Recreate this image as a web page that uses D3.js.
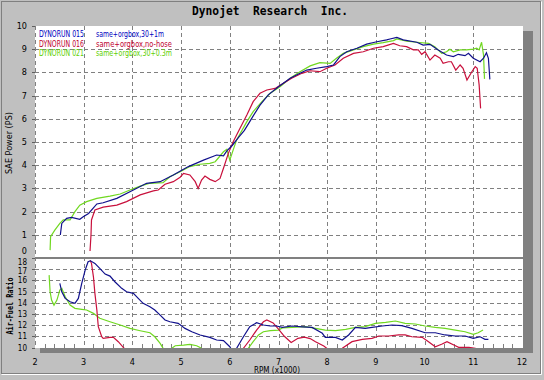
<!DOCTYPE html>
<html>
<head>
<meta charset="utf-8">
<script src="https://cdn.jsdelivr.net/npm/d3@7"></script>
<style>
html,body{margin:0;padding:0;background:#c0c0c0;}
svg{display:block;}
</style>
</head>
<body>
<svg id="chart" width="544" height="380"></svg>
<script>
// ---------- DATA ----------
const chartTitle = "Dynojet  Research  Inc.";
const xTicks = [2,3,4,5,6,7,8,9,10,11,12];
const powerTicks = [0,1,2,3,4,5,6,7,8,9,10];
const afrTicks = [10,11,12,13,14,15,16,17,18];
const runNames = ["DYNORUN 015","DYNORUN 016","DYNORUN 021"];
const runNotes = ["same+orgbox,30+1m","same+orgbox,no-hose","same+orgbox,30+0.3m"];
const runColors = ["#10108c","#c8103c","#70d820"];
const legendColors = ["#0000c0","#c00030","#60d000"];

// SAE power (PS) vs RPM (x1000)
const power015 = [[2.52,0.99],[2.55,1.49],[2.65,1.71],[2.75,1.75],[2.92,1.67],[2.99,1.78],[3.10,1.92],[3.27,2.33],[3.40,2.38],[3.68,2.57],[4.02,2.93],[4.29,3.22],[4.57,3.29],[4.84,3.58],[5.15,3.94],[5.46,4.22],[5.73,4.44],[5.87,4.40],[5.94,4.62],[6.05,4.85],[6.18,5.2],[6.30,5.5],[6.45,6.02],[6.62,6.59],[6.79,7.03],[7.0,7.38],[7.24,7.75],[7.44,7.96],[7.58,8.10],[7.78,8.18],[7.99,8.25],[8.13,8.32],[8.26,8.68],[8.40,8.89],[8.61,9.04],[8.81,9.22],[9.02,9.32],[9.22,9.40],[9.29,9.44],[9.43,9.51],[9.56,9.40],[9.84,9.30],[9.97,9.18],[10.11,9.21],[10.28,8.97],[10.45,8.75],[10.59,8.68],[10.69,8.78],[10.83,8.72],[10.9,8.82],[11.0,8.61],[11.14,8.46],[11.21,8.61],[11.27,8.85],[11.31,8.61],[11.34,7.7]];
const power016 = [[3.13,0.3],[3.15,1.0],[3.16,1.64],[3.23,2.07],[3.40,2.19],[3.68,2.28],[3.88,2.43],[4.16,2.72],[4.43,2.89],[4.53,2.93],[4.67,3.18],[4.84,3.29],[4.98,3.48],[5.05,3.65],[5.18,3.58],[5.29,3.29],[5.35,3.0],[5.42,3.36],[5.49,3.53],[5.59,3.39],[5.70,3.29],[5.80,3.43],[5.87,3.87],[5.97,4.51],[6.07,5.01],[6.21,5.59],[6.35,6.16],[6.48,6.74],[6.62,7.10],[6.76,7.24],[6.93,7.31],[7.10,7.53],[7.27,7.75],[7.48,7.96],[7.65,8.07],[7.85,8.03],[7.99,8.18],[8.16,8.32],[8.33,8.61],[8.54,8.82],[8.74,8.89],[8.95,9.04],[9.15,9.11],[9.36,9.25],[9.49,9.15],[9.63,9.11],[9.77,8.97],[9.87,8.97],[9.94,8.78],[10.01,8.89],[10.11,8.53],[10.21,8.75],[10.32,8.61],[10.38,8.39],[10.49,8.46],[10.55,8.46],[10.64,8.10],[10.73,8.32],[10.79,8.18],[10.87,7.67],[10.97,8.03],[11.04,8.25],[11.08,8.18],[11.12,7.46],[11.15,6.45]];
const power021 = [[2.31,0.34],[2.32,0.92],[2.41,1.21],[2.51,1.49],[2.58,1.64],[2.72,1.64],[2.82,2.0],[2.92,2.28],[3.06,2.43],[3.27,2.57],[3.54,2.67],[3.75,2.76],[3.95,2.93],[4.16,3.10],[4.36,3.22],[4.63,3.25],[4.77,3.50],[4.98,3.72],[5.18,3.94],[5.39,4.04],[5.59,4.08],[5.70,4.15],[5.76,4.30],[5.87,4.58],[5.94,4.69],[6.00,4.22],[6.07,4.66],[6.14,5.09],[6.35,5.88],[6.48,6.31],[6.66,6.74],[6.83,7.10],[7.03,7.38],[7.24,7.75],[7.44,8.03],[7.65,8.28],[7.85,8.42],[8.06,8.39],[8.19,8.61],[8.33,8.82],[8.54,8.97],[8.74,9.11],[8.95,9.22],[9.15,9.28],[9.36,9.37],[9.43,9.44],[9.63,9.35],[9.84,9.30],[10.08,9.25],[10.21,9.11],[10.35,8.82],[10.45,8.89],[10.52,9.0],[10.59,8.89],[10.73,8.97],[10.86,8.97],[11.0,9.0],[11.07,9.04],[11.12,8.97],[11.17,9.3],[11.21,8.75],[11.23,7.72]];

// Air-fuel ratio vs RPM (x1000); values under 10 fall below the panel
const afr015 = [[2.51,15.73],[2.55,14.98],[2.62,14.39],[2.72,14.09],[2.82,13.95],[2.89,14.39],[2.96,15.73],[3.03,16.92],[3.09,17.66],[3.14,17.75],[3.23,17.52],[3.33,17.07],[3.44,16.56],[3.54,16.38],[3.64,15.88],[3.78,15.29],[3.88,14.98],[4.02,14.84],[4.12,14.39],[4.22,13.95],[4.36,13.64],[4.46,13.35],[4.57,12.90],[4.67,12.46],[4.77,12.30],[4.94,12.16],[5.08,11.71],[5.22,11.41],[5.39,11.12],[5.59,10.91],[5.73,10.67],[5.87,10.61],[6.00,10.07],[6.05,9.7],[6.12,9.7],[6.14,9.93],[6.28,10.96],[6.41,11.86],[6.55,12.21],[6.69,12.01],[6.83,11.92],[6.96,11.92],[7.08,11.80],[7.28,11.92],[7.49,11.85],[7.69,11.80],[7.90,11.27],[7.96,10.91],[8.17,10.91],[8.31,10.67],[8.44,11.12],[8.58,11.80],[8.78,11.71],[8.92,11.80],[9.13,11.92],[9.33,12.01],[9.53,11.95],[9.74,11.71],[10.01,11.32],[10.22,11.32],[10.42,11.12],[10.63,11.03],[10.83,11.03],[11.0,10.82],[11.14,10.96],[11.24,10.73],[11.31,10.73]];
const afr016 = [[3.13,17.8],[3.16,17.52],[3.20,16.32],[3.23,14.84],[3.27,13.35],[3.30,11.86],[3.37,10.96],[3.40,10.82],[3.54,10.91],[3.61,10.91],[3.71,10.52],[3.83,9.93],[3.95,9.6],[6.15,9.6],[6.28,9.93],[6.41,10.67],[6.55,11.56],[6.69,12.30],[6.76,12.46],[6.89,12.2],[7.0,11.65],[7.12,11.0],[7.26,10.45],[7.40,10.82],[7.53,10.93],[7.65,10.8],[7.76,10.52],[7.93,10.13],[8.0,9.9],[8.15,9.6],[8.31,9.93],[8.51,10.52],[8.72,10.73],[8.92,10.82],[9.06,11.03],[9.26,11.03],[9.47,11.12],[9.60,11.12],[9.74,10.96],[9.95,10.91],[10.08,10.52],[10.22,10.07],[10.36,10.31],[10.46,10.52],[10.60,10.22],[10.70,10.02],[10.91,10.02],[11.04,9.93],[11.10,9.8]];
const afr021 = [[2.29,16.47],[2.31,14.98],[2.34,14.24],[2.39,13.79],[2.45,14.24],[2.51,15.13],[2.55,15.29],[2.62,14.54],[2.72,13.79],[2.82,13.50],[2.96,13.41],[3.06,13.35],[3.20,13.05],[3.33,12.61],[3.54,12.30],[3.75,12.01],[3.95,11.71],[4.16,11.50],[4.36,11.32],[4.46,10.96],[4.57,10.37],[4.63,9.93],[4.72,9.7],[4.81,9.93],[4.88,10.16],[5.05,10.22],[5.18,10.28],[5.32,10.16],[5.42,9.93],[5.6,9.6],[6.2,9.6],[6.38,9.93],[6.48,10.52],[6.59,11.12],[6.69,11.41],[6.83,11.50],[7.0,11.56],[7.08,11.75],[7.28,11.80],[7.55,11.86],[7.76,11.71],[7.96,11.56],[8.17,11.50],[8.38,11.62],[8.58,11.80],[8.78,11.86],[8.99,12.16],[9.20,12.25],[9.40,12.37],[9.60,12.16],[9.81,12.10],[10.01,11.92],[10.22,11.80],[10.42,11.71],[10.63,11.56],[10.83,11.41],[11.0,11.18],[11.10,11.32],[11.20,11.56]];

// ---------- LAYOUT ----------
const W = 544, H = 380;
const plotL = 35, plotR = 523, plotT = 26, splitY = 258, plotB = 348;
const svg = d3.select("#chart");
const smallFont = "'Liberation Sans Narrow','DejaVu Sans Condensed','Liberation Sans',sans-serif";

const x = d3.scaleLinear().domain([2,12]).range([plotL, 522]);
const yP = d3.scaleLinear().domain([0,10]).range([splitY, plotT]);
const yA = d3.scaleLinear().domain([10,18]).range([347.5, splitY]);

// window background and frame
svg.append("rect").attr("width",W).attr("height",H).attr("fill","#c0c0c0");
svg.append("rect").attr("x",1.5).attr("y",1.5).attr("width",539).attr("height",372)
  .attr("fill","none").attr("stroke","#808080");
svg.append("path").attr("d","M541.5,1.5V374.5H1.5").attr("fill","none").attr("stroke","#ffffff");

// shadow + plot area
svg.append("rect").attr("x",plotL+5).attr("y",plotT+5).attr("width",plotR-plotL+5).attr("height",plotB-plotT)
  .attr("fill","#808080");
svg.append("rect").attr("x",plotL).attr("y",plotT).attr("width",plotR-plotL).attr("height",plotB-plotT)
  .attr("fill","#ffffff");

const grid = svg.append("g").attr("stroke","#808080").attr("stroke-width",1)
  .attr("stroke-dasharray","4,3").attr("fill","none");
xTicks.filter(d => d < 12).forEach(d => {
  grid.append("line").attr("x1",Math.round(x(d))+0.5).attr("x2",Math.round(x(d))+0.5)
    .attr("y1",plotT).attr("y2",plotB);
});
powerTicks.filter(d => d > 0 && d < 10).forEach(d => {
  grid.append("line").attr("x1",plotL).attr("x2",plotR)
    .attr("y1",Math.round(yP(d))+0.5).attr("y2",Math.round(yP(d))+0.5);
});
afrTicks.filter(d => d > 10 && d < 18).forEach(d => {
  grid.append("line").attr("x1",plotL).attr("x2",plotR)
    .attr("y1",Math.round(yA(d))+0.5).attr("y2",Math.round(yA(d))+0.5);
});

// minor ticks along bottom
const minor = svg.append("g").attr("stroke","#808080");
d3.range(11, 60).forEach(i => {
  const v = i/5;
  if (Math.abs(v - Math.round(v)) < 1e-6) return;
  minor.append("line").attr("x1",Math.round(x(v))+0.5).attr("x2",Math.round(x(v))+0.5)
    .attr("y1",plotB-4).attr("y2",plotB);
});
// left tick marks
const lt = svg.append("g").attr("stroke","#606060");
powerTicks.forEach(d => lt.append("line").attr("x1",plotL-3).attr("x2",plotL)
  .attr("y1",Math.round(yP(d))+0.5).attr("y2",Math.round(yP(d))+0.5));
afrTicks.forEach(d => lt.append("line").attr("x1",plotL-3).attr("x2",plotL)
  .attr("y1",Math.round(yA(d))+0.5).attr("y2",Math.round(yA(d))+0.5));

// separator between panels
svg.append("line").attr("x1",plotL).attr("x2",plotR).attr("y1",splitY).attr("y2",splitY)
  .attr("stroke","#808080").attr("stroke-width",2);

// clip paths
const defs = svg.append("defs");
defs.append("clipPath").attr("id","clipP").append("rect")
  .attr("x",plotL).attr("y",plotT).attr("width",plotR-plotL).attr("height",splitY-1-plotT);
defs.append("clipPath").attr("id","clipA").append("rect")
  .attr("x",plotL).attr("y",splitY+1).attr("width",plotR-plotL).attr("height",plotB-splitY-1);

const lineP = d3.line().x(d => x(d[0])).y(d => yP(d[1]));
const lineA = d3.line().x(d => x(d[0])).y(d => yA(d[1]));
const gP = svg.append("g").attr("clip-path","url(#clipP)");
const gA = svg.append("g").attr("clip-path","url(#clipA)");
[power021, power016, power015].forEach((s,i) => {
  gP.append("path").attr("d",lineP(s)).attr("fill","none")
    .attr("stroke",runColors[2-i]).attr("stroke-width",1.2);
});
[afr021, afr016, afr015].forEach((s,i) => {
  gA.append("path").attr("d",lineA(s)).attr("fill","none")
    .attr("stroke",runColors[2-i]).attr("stroke-width",1.2);
});

// tick labels
const lab = svg.append("g").attr("font-family",smallFont).attr("font-size",9)
  .attr("fill","#000").attr("text-anchor","end");
powerTicks.forEach(d => {
  const yy = d === 0 ? 254 : yP(d) + 3;
  lab.append("text").attr("x",27).attr("y",yy).text(d);
});
const labA = svg.append("g").attr("font-family",smallFont).attr("font-size",8)
  .attr("fill","#000").attr("text-anchor","end");
afrTicks.forEach(d => {
  let yy = yA(d) + 3;
  if (d === 18) yy = 265;
  if (d === 17) yy = 273.5;
  labA.append("text").attr("x",27).attr("y",yy).text(d);
});
const xl = svg.append("g").attr("font-family",smallFont).attr("font-size",9)
  .attr("fill","#000").attr("text-anchor","middle");
xTicks.forEach(d => xl.append("text").attr("x",x(d)).attr("y",365).text(d));

// axis titles
svg.append("text").attr("x",277).attr("y",373).attr("text-anchor","middle")
  .attr("font-family",smallFont).attr("font-size",8).text("RPM (x1000)");
svg.append("text").attr("transform","translate(12,143) rotate(-90)").attr("text-anchor","middle")
  .attr("font-family",smallFont).attr("font-size",9).text("SAE Power (PS)");
svg.append("text").attr("transform","translate(13,306) rotate(-90)").attr("text-anchor","middle")
  .attr("font-family","'DejaVu Sans Mono',monospace").attr("font-size",9).attr("font-weight","bold")
  .attr("textLength",57).attr("lengthAdjust","spacingAndGlyphs").text("Air-Fuel Ratio");

// title
svg.append("text").attr("x",270).attr("y",15).attr("text-anchor","middle")
  .attr("font-family","'DejaVu Sans Mono',monospace").attr("font-weight","bold").attr("font-size",12)
  .attr("textLength",156).attr("lengthAdjust","spacingAndGlyphs")
  .attr("xml:space","preserve").style("white-space","pre").text(chartTitle);

// legend
const leg = svg.append("g").attr("font-family",smallFont).attr("font-size",8.5);
runNames.forEach((n,i) => {
  leg.append("text").attr("x",39).attr("y",37 + i*9.7).attr("fill",legendColors[i])
    .attr("textLength",45).attr("lengthAdjust","spacingAndGlyphs").text(n);
  leg.append("text").attr("x",96).attr("y",37 + i*9.7).attr("fill",legendColors[i])
    .attr("textLength",[68,76,76][i]).attr("lengthAdjust","spacingAndGlyphs").text(runNotes[i]);
});
</script>
</body>
</html>
